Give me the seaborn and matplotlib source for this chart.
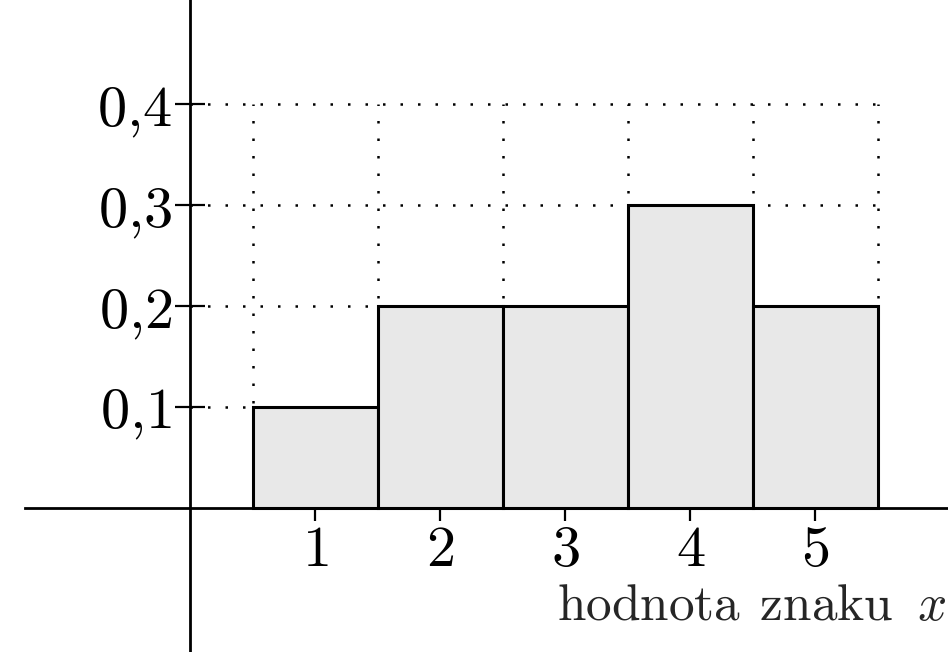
import numpy as np
import matplotlib
matplotlib.use("Agg")
import matplotlib.pyplot as plt
import seaborn as sns

# ---- data ----
hodnoty = [1, 2, 3, 4, 5]
cetnosti = [0.1, 0.2, 0.2, 0.3, 0.2]
y_ticks = [0.1, 0.2, 0.3, 0.4]
y_labels = ["$0{,}1$", "$0{,}2$", "$0{,}3$", "$0{,}4$"]
x_labels = ["$1$", "$2$", "$3$", "$4$", "$5$"]
popisek_x = r"$\mathrm{hodnota\;\,znaku}\;\;x$"

sns.set_style("white")
plt.rcParams["mathtext.fontset"] = "cm"
plt.rcParams["font.family"] = ["DejaVu Serif"]

fig = plt.figure(figsize=(9.48, 6.52), dpi=100)
ax = fig.add_axes([0, 0, 1, 1])

# tečkovaná mřížka za sloupci
hranice = [h - 0.5 for h in hodnoty] + [hodnoty[-1] + 0.5]
dots = (0, (1, 6))
ax.hlines(y_ticks, 0, hranice[-1], colors="black", linewidth=1.8,
          linestyles=dots, zorder=1)
ax.vlines(hranice, 0, max(y_ticks), colors="black", linewidth=1.8,
          linestyles=dots, zorder=1)

sns.barplot(x=hodnoty, y=cetnosti, native_scale=True, width=1,
            color="#e8e8e8", saturation=1, edgecolor="black",
            linewidth=2.2, ax=ax, zorder=2)

ax.set_xlim(-1.52, 6.06)
ax.set_ylim(-0.143, 0.503)

# osy procházejí počátkem
for s in ["top", "right"]:
    ax.spines[s].set_visible(False)
ax.spines["left"].set_position(("data", 0))
ax.spines["bottom"].set_position(("data", 0))
ax.spines["bottom"].set_bounds(-1.32, 6.06)
for s in ["left", "bottom"]:
    ax.spines[s].set_linewidth(2)
    ax.spines[s].set_color("black")
    ax.spines[s].set_zorder(3)

ax.set_xticks(hodnoty)
ax.set_xticklabels(x_labels)
ax.set_yticks(y_ticks)
ax.set_yticklabels(y_labels)
ax.tick_params(axis="x", bottom=True, direction="inout", length=18,
               width=1.6, labelsize=42, pad=1, colors="black")
ax.tick_params(axis="y", left=True, direction="inout", length=22,
               width=1.6, labelsize=42, pad=2, colors="black")
ax.set_xlabel("")
ax.set_ylabel("")

ax.text(0.998, 0.049, popisek_x, transform=ax.transAxes, ha="right",
        va="baseline", fontsize=37)

fig.savefig("out.png", dpi=100, facecolor="white")
